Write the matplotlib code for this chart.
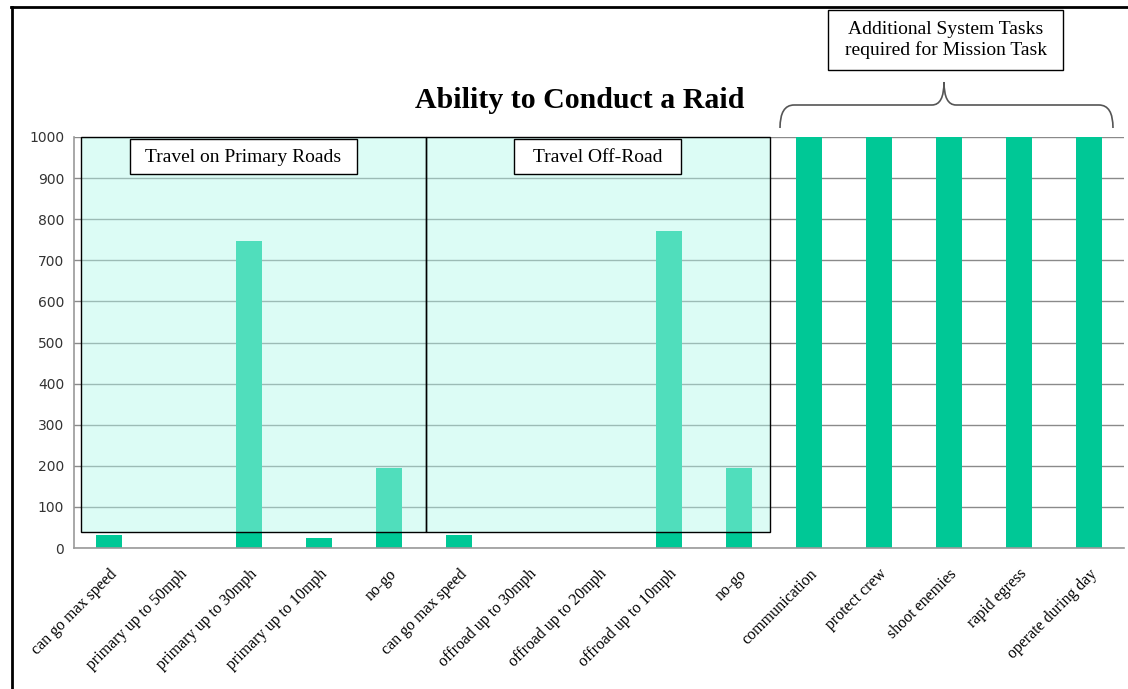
import matplotlib.pyplot as plt
from matplotlib.patches import Rectangle, PathPatch
from matplotlib.path import Path
from matplotlib.lines import Line2D

# Data
categories = ["can go max speed", "primary up to 50mph", "primary up to 30mph",
              "primary up to 10mph", "no-go", "can go max speed",
              "offroad up to 30mph", "offroad up to 20mph", "offroad up to 10mph",
              "no-go", "communication", "protect crew", "shoot enemies",
              "rapid egress", "operate during day"]
values = [32, 0, 746, 25, 194, 32, 0, 0, 772, 194, 1000, 1000, 1000, 1000, 1000]
y_ticks = [0, 100, 200, 300, 400, 500, 600, 700, 800, 900, 1000]
group_labels = ["Travel on Primary Roads", "Travel Off-Road"]
note_text = "Additional System Tasks\nrequired for Mission Task"
title = "Ability to Conduct a Raid"

W, H = 1128, 689
fig = plt.figure(figsize=(W / 100, H / 100), dpi=100)
ax = fig.add_axes([74 / W, 1 - 548 / H, 1050 / W, 411 / H])


def px(x, y):
    # pixel position -> figure fraction
    return (x / W, 1 - y / H)


x = list(range(len(categories)))
ax.bar(x, values, width=0.37, color="#00C896", zorder=2)

ax.set_xlim(-0.5, len(categories) - 0.5)
ax.set_ylim(0, 1000)
ax.set_yticks(y_ticks)
ax.set_yticklabels([str(v) for v in y_ticks], fontsize=10, color="#333333",
                   family="DejaVu Sans")
ax.set_xticks(x)
ax.set_xticklabels(categories, rotation=45, ha="right", rotation_mode="anchor",
                   fontsize=11.5, family="Liberation Serif")
ax.tick_params(axis="both", length=0)
ax.tick_params(axis="y", pad=7)
ax.tick_params(axis="x", pad=13)
ax.yaxis.grid(True, color="#8a8a8a", linewidth=1, zorder=0)
ax.set_axisbelow(True)
for s in ["top", "right"]:
    ax.spines[s].set_visible(False)
for s in ["left", "bottom"]:
    ax.spines[s].set_color("#9a9a9a")
    ax.spines[s].set_linewidth(1.2)

# shaded overlay boxes over the travel groups
box_left, box_mid, box_right = -0.4, 4.53, 9.44
box_bottom, box_top = 40, 1000
for x0, x1 in [(box_left, box_mid), (box_mid, box_right)]:
    ax.add_patch(Rectangle((x0, box_bottom), x1 - x0, box_top - box_bottom,
                           facecolor="#b2f9eb", alpha=0.45, edgecolor="none",
                           zorder=3, clip_on=False))
    ax.add_patch(Rectangle((x0, box_bottom), x1 - x0, box_top - box_bottom,
                           facecolor="none", edgecolor="black", linewidth=1,
                           zorder=4, clip_on=False))

# group label boxes (pixel extents)
for label, (x0, x1) in zip(group_labels, [(130, 357), (514, 681)]):
    fig.patches.append(Rectangle(px(x0, 174), (x1 - x0) / W, 35 / H,
                                 facecolor="white", edgecolor="black", linewidth=1,
                                 transform=fig.transFigure, zorder=5))
    fig.text(*px((x0 + x1) / 2, 157), label, ha="center", va="center",
             fontsize=14, family="Liberation Serif", zorder=6)

# title
fig.text(*px(580, 108), title, ha="center", va="baseline",
         fontsize=21.5, fontweight="bold", family="Liberation Serif")

# additional tasks box
fig.patches.append(Rectangle(px(828, 70), 235 / W, 60 / H, facecolor="white",
                             edgecolor="black", linewidth=1,
                             transform=fig.transFigure))
fig.text(*px(946, 40), note_text, ha="center", va="center", fontsize=14,
         family="Liberation Serif", linespacing=1.2)

# curly brace
verts = [px(780, 128), px(780, 105), px(794, 105),
         px(932, 105), px(944, 105), px(944, 82),
         px(944, 105), px(956, 105),
         px(1099, 105), px(1113, 105), px(1113, 128)]
codes = [Path.MOVETO, Path.CURVE3, Path.CURVE3,
         Path.LINETO, Path.CURVE3, Path.CURVE3,
         Path.CURVE3, Path.CURVE3,
         Path.LINETO, Path.CURVE3, Path.CURVE3]
fig.patches.append(PathPatch(Path(verts, codes), facecolor="none", edgecolor="#555555",
                             linewidth=1.2, transform=fig.transFigure))

# outer frame lines
fig.lines.append(Line2D([11.5 / W, 11.5 / W], [0, 1 - 7 / H], color="black",
                        linewidth=2, transform=fig.transFigure))
fig.lines.append(Line2D([11 / W, 1], [1 - 7 / H, 1 - 7 / H], color="black",
                        linewidth=2, transform=fig.transFigure))

fig.savefig("out.png", dpi=100)
